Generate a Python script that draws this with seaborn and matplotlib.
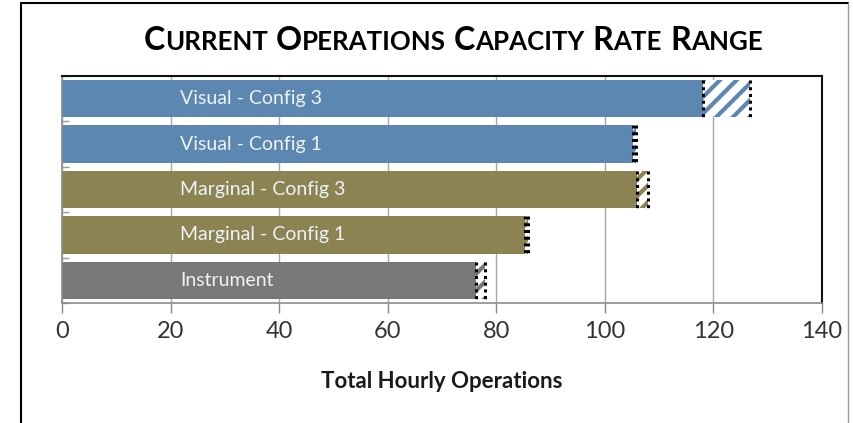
import matplotlib
matplotlib.use("Agg")
import matplotlib.pyplot as plt
import seaborn as sns
import pandas as pd
from matplotlib.lines import Line2D

# ---- data ----
categories = ["Visual - Config 3", "Visual - Config 1", "Marginal - Config 3",
              "Marginal - Config 1", "Instrument"]
low_rate = [118, 105.2, 106, 85.3, 76.2]
high_rate = [126.7, 105.7, 108, 85.8, 77.9]
bar_colors = ["#5b87b0", "#5b87b0", "#8c8352", "#8c8352", "#787878"]
x_ticks = [0, 20, 40, 60, 80, 100, 120, 140]
title_text = "Current Operations Capacity Rate Range"
x_label = "Total Hourly Operations"

sns.set_theme(style="white")
plt.rcParams["font.family"] = ["Lato", "DejaVu Sans"]
plt.rcParams["hatch.linewidth"] = 3.0

W, H = 854, 423
fig = plt.figure(figsize=(W / 100, H / 100), dpi=100)
fig.patch.set_facecolor("white")
ax = fig.add_axes([62 / W, 1 - 303 / H, 760 / W, 227 / H])

BAR_H = 0.82
df = pd.DataFrame({"category": categories, "low": low_rate, "high": high_rate})
sns.barplot(data=df, y="category", x="low", hue="category", palette=bar_colors,
            orient="h", width=BAR_H, legend=False, ax=ax, saturation=1,
            linewidth=0, zorder=2)

# range portion (hatched, dotted vertical edges)
for i, (lo, hi, c) in enumerate(zip(low_rate, high_rate, bar_colors)):
    ax.barh(i, hi - lo, left=lo, height=BAR_H, color="white", edgecolor=c,
            hatch="//", linewidth=0, zorder=2)
    ax.vlines([lo, hi], i - BAR_H / 2, i + BAR_H / 2, colors="black",
              linestyles=(0, (1, 1.2)), linewidth=2.2, zorder=3)

# labels inside bars
for i, cat in enumerate(categories):
    ax.text(21.8, i, cat, va="center", ha="left", color="#eef3f8",
            fontsize=14, zorder=4)

ax.set_xlim(0, 140)
ax.set_ylim(4.48, -0.48)
ax.set_xticks(x_ticks)
ax.set_xticklabels([str(t) for t in x_ticks])
ax.set_yticks([])
ax.set_yticks([i - 0.5 for i in range(6)], minor=True)
ax.set_ylabel("")
ax.grid(axis="x", color="#a6a6a6", linewidth=1)
ax.set_axisbelow(True)

ax.tick_params(axis="x", direction="out", length=7, width=1, color="#888888",
               labelsize=17, labelcolor="#333333", pad=6, bottom=True)
ax.tick_params(axis="y", which="minor", direction="in", length=5, width=1,
               color="#999999", left=True)

for side in ["top", "right"]:
    ax.spines[side].set_color("#111111")
    ax.spines[side].set_linewidth(1.5)
for side in ["left", "bottom"]:
    ax.spines[side].set_color("#8c8c8c")
    ax.spines[side].set_linewidth(1.2)

ax.set_xlabel(x_label, fontsize=16, fontweight="bold", color="#1a1a1a")
ax.xaxis.set_label_coords(0.5, -0.30)

# ---- small-caps title ----
renderer = fig.canvas.get_renderer()
words = title_text.split(" ")


def layout(size):
    texts = []
    x = 0.0
    gap = size * 100 / 72 * 0.25
    for wi, word in enumerate(words):
        for s, scale in [(word[0], 1.0), (word[1:], 0.8)]:
            t = fig.text(x / W, 1 - 50 / H, s.upper(), fontsize=size * scale,
                         fontweight="bold", va="baseline", ha="left",
                         color="black")
            w = t.get_window_extent(renderer).width
            texts.append((t, x))
            x += w
        if wi < len(words) - 1:
            x += gap
    return texts, x


texts, width = layout(24)
size = 24 * 617 / width
for t, _ in texts:
    t.remove()
texts, width = layout(size)
offset = 453 - width / 2
for t, x in texts:
    t.set_x((x + offset) / W)

# ---- outer frame ----
fig.add_artist(Line2D([21 / W, 21 / W], [0, 1 - 3 / H], color="black", lw=1.5,
                      transform=fig.transFigure))
fig.add_artist(Line2D([21 / W, 848 / W], [1 - 3 / H, 1 - 3 / H], color="black",
                      lw=1.5, transform=fig.transFigure))
fig.add_artist(Line2D([848 / W, 848 / W], [0, 1 - 3 / H], color="#999999",
                      lw=1, transform=fig.transFigure))

fig.savefig("out.png", dpi=100, facecolor="white")
